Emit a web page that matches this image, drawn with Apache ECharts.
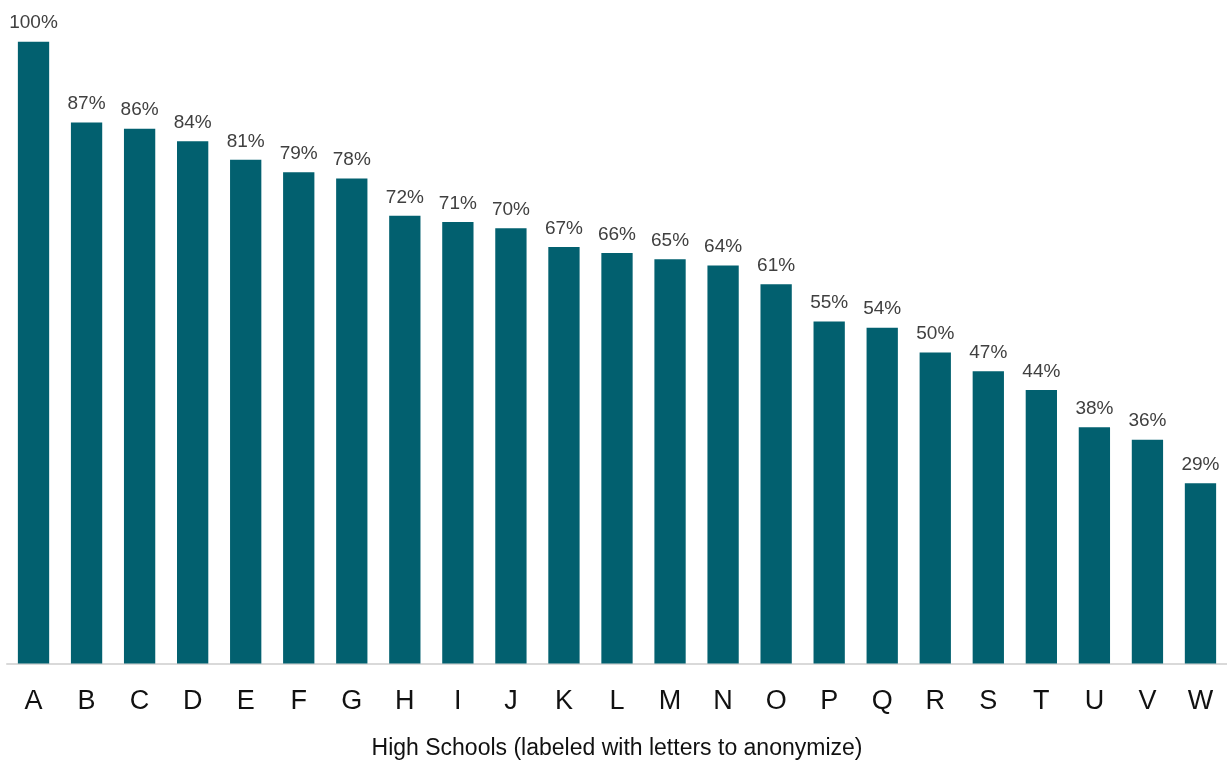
<!DOCTYPE html>
<html>
<head>
<meta charset="utf-8">
<script src="https://cdn.jsdelivr.net/npm/echarts@6/dist/echarts.min.js"></script>
<style>
html,body{margin:0;padding:0;background:#fff;}
#chart{width:1227px;height:760px;}
</style>
</head>
<body>
<div id="chart"></div>
<script>
const categories = ['A','B','C','D','E','F','G','H','I','J','K','L','M','N','O','P','Q','R','S','T','U','V','W'];
const values = [100,87,86,84,81,79,78,72,71,70,67,66,65,64,61,55,54,50,47,44,38,36,29];
const axisTitle = 'High Schools (labeled with letters to anonymize)';

const chart = echarts.init(document.getElementById('chart'), null, {renderer:'canvas'});
chart.setOption({
  animation: false,
  backgroundColor: '#ffffff',
  grid: {left: 7, right: 0, top: 41.7, bottom: 96.5, containLabel: false, outerBoundsMode: 'none'},
  xAxis: {
    type: 'category',
    data: categories,
    name: axisTitle,
    nameLocation: 'middle',
    nameGap: 74,
    nameTextStyle: {fontFamily: 'Liberation Sans, Arial, sans-serif', fontSize: 23, color: '#111'},
    axisLine: {show: true, lineStyle: {color: '#d9d9d9', width: 2}},
    axisTick: {show: false},
    axisLabel: {fontFamily: '"Liberation Sans", Arial, sans-serif', fontSize: 27, color: '#111', margin: 25}
  },
  yAxis: {
    type: 'value', min: 0, max: 100, show: false,
    splitLine: {show: false}
  },
  series: [{
    type: 'bar',
    data: values,
    barWidth: '59%',
    itemStyle: {color: '#02606f'},
    label: {
      show: true, position: 'top', distance: 9,
      formatter: p => p.value + '%',
      fontFamily: 'Liberation Sans, Arial, sans-serif', fontSize: 19, color: '#404040'
    }
  }]
});
</script>
</body>
</html>
